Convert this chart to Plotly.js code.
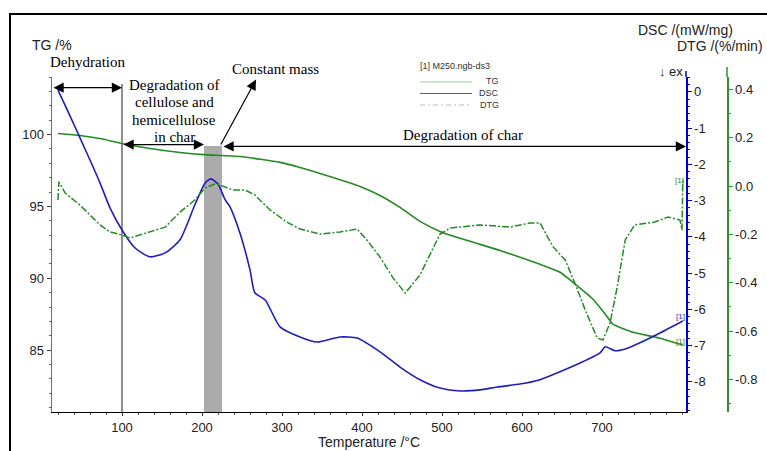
<!DOCTYPE html>
<html>
<head>
<meta charset="utf-8">
<script src="https://cdn.plot.ly/plotly-3.0.1.min.js"></script>
<style>html,body{margin:0;padding:0;background:#fff;}#chart{width:767px;height:451px;}</style>
</head>
<body>
<div id="chart"></div>
<script>
// ---- Data ----
const tgTemp = [20, 47.5, 72.5, 100, 135, 172.5, 202.5, 247.5, 297.5, 322.5, 363.75, 397.5, 422.5, 447.5, 472.5, 497.5, 522.5, 547.5, 572.5, 622.5, 647.5, 663.75, 688.75, 706, 713.75, 739, 772.5, 801];
const tgValues = [100.07, 99.93, 99.72, 99.38, 99.03, 98.75, 98.60, 98.47, 98.06, 97.71, 97.01, 96.39, 95.76, 94.93, 93.96, 93.26, 92.78, 92.36, 91.94, 90.97, 90.42, 89.72, 88.54, 87.36, 86.81, 86.25, 85.83, 85.35];

const dscTemp = [20, 35, 47.5, 60, 72.5, 85, 100, 116, 135, 154, 172.5, 191, 204, 211, 220, 229, 235, 247.5, 260, 266, 279, 297.5, 322.5, 344, 372.5, 394, 422.5, 447.5, 472.5, 497.5, 522.5, 547.5, 569, 597.5, 622.5, 647.5, 672.5, 697.5, 704, 716, 729, 747.5, 772.5, 801];
const dscValues = [0.05, -0.66, -1.27, -1.88, -2.51, -3.2, -3.81, -4.30, -4.55, -4.44, -4.08, -3.12, -2.51, -2.40, -2.54, -2.98, -3.17, -3.9, -4.91, -5.54, -5.74, -6.48, -6.76, -6.90, -6.76, -6.79, -7.17, -7.59, -7.94, -8.17, -8.25, -8.22, -8.14, -8.06, -7.94, -7.72, -7.48, -7.20, -7.03, -7.14, -7.09, -6.92, -6.65, -6.32];

const dtgTemp = [20, 21, 29, 47.5, 60, 72.5, 85, 100, 110, 135, 154, 172.5, 191, 204, 216, 222.5, 239, 254, 266, 285, 306, 322.5, 347.5, 372.5, 394, 406, 422.5, 439, 454, 472.5, 489, 497.5, 510, 547.5, 585, 610, 622.5, 639, 654, 666, 679, 694, 701, 710, 719, 729, 741, 766, 782.5, 797.5, 800, 801];
const dtgValues = [-0.058, 0.017, -0.029, -0.079, -0.120, -0.161, -0.190, -0.203, -0.215, -0.190, -0.170, -0.108, -0.058, -0.008, 0.008, 0.004, -0.017, -0.017, -0.037, -0.099, -0.149, -0.178, -0.199, -0.190, -0.178, -0.223, -0.294, -0.381, -0.443, -0.368, -0.257, -0.199, -0.174, -0.161, -0.170, -0.153, -0.153, -0.252, -0.306, -0.401, -0.513, -0.629, -0.637, -0.567, -0.418, -0.223, -0.161, -0.149, -0.128, -0.141, -0.182, 0.025];

const xTickVals = [100, 200, 300, 400, 500, 600, 700];
const tgTickVals = [85, 90, 95, 100];
const dscTickVals = [0, -1, -2, -3, -4, -5, -6, -7, -8];
const dscTickText = ['0', '-1', '-2', '-3', '-4', '-5', '-6', '-7', '-8'];
const dtgTickVals = [0.4, 0.2, 0.0, -0.2, -0.4, -0.6, -0.8];
const dtgTickText = ['0.4', '0.2', '0.0', '-0.2', '-0.4', '-0.6', '-0.8'];
const stageBounds = [20, 100, 202.5, 225, 805]; // dehydration | cellulose | constant mass | char
const cellLines = ['Degradation of', 'cellulose and', 'hemicellulose', 'in char'];

// ---- Layout helpers (pixel -> paper) ----
const ML = 52, MR = 40, MT = 77, MB = 39, W = 767, H = 451;
const PW = W - ML - MR, PH = H - MT - MB;
const px = x => (x - ML) / PW;
const py = y => (H - MB - y) / PH;

const green = 'rgb(34,139,34)';
const blue = 'rgb(30,30,190)';
const sans = 'Liberation Sans, Arial, sans-serif';
const serif = 'Liberation Serif, Times New Roman, serif';
const tickFont = {family: sans, size: 13, color: '#222'};

const traces = [
  {x: tgTemp, y: tgValues, type: 'scatter', mode: 'lines', name: 'TG', yaxis: 'y',
   line: {color: green, width: 1.6, shape: 'spline', smoothing: 0.5}},
  {x: dscTemp, y: dscValues, type: 'scatter', mode: 'lines', name: 'DSC', yaxis: 'y2',
   line: {color: blue, width: 1.6, shape: 'spline', smoothing: 0.6}},
  {x: dtgTemp, y: dtgValues, type: 'scatter', mode: 'lines', name: 'DTG', yaxis: 'y3',
   line: {color: green, width: 1.5, dash: '7px,2px,2px,2px'}}
];

function txt(text, x, y, opts) {
  return Object.assign({text: text, xref: 'paper', yref: 'paper', x: px(x), y: py(y),
    showarrow: false, xanchor: 'left', yanchor: 'middle',
    font: {family: sans, size: 14, color: '#222'}}, opts || {});
}
function arrow(x, y, ax, ay, side) {
  return {x: x, y: y, ax: ax, ay: ay, xref: 'x', yref: 'y', axref: 'x', ayref: 'y',
    text: '', showarrow: true, arrowhead: 2, arrowsize: 1.7, arrowwidth: 1.2,
    arrowcolor: '#000', arrowside: side || 'end', standoff: 0, startstandoff: 0};
}
const smallFont = c => ({family: sans, size: 9, color: c || '#333'});
const serifFont = {family: serif, size: 15, color: '#000'};

const annotations = [
  txt('TG /%', 30, 45),
  txt('DSC /(mW/mg)', 636, 30),
  txt('DTG /(%/min)', 765, 46, {xanchor: 'right'}),
  txt('↓ ex', 685, 71, {xanchor: 'right', font: {family: sans, size: 13, color: '#222'}}),
  txt('Temperature /°C', 369, 442, {xanchor: 'center'}),
  txt('[1] M250.ngb-ds3', 418, 66, {font: smallFont()}),
  txt('TG', 501, 81, {xanchor: 'right', font: smallFont()}),
  txt('DSC', 501, 93, {xanchor: 'right', font: smallFont()}),
  txt('DTG', 501, 105, {xanchor: 'right', font: smallFont()}),
  txt('[1]', 680, 316, {xanchor: 'center', font: {family: sans, size: 8, color: blue}}),
  txt('[1]', 680, 341, {xanchor: 'center', font: {family: sans, size: 8, color: green}}),
  txt('[1]', 679, 180, {xanchor: 'center', font: {family: sans, size: 8, color: green}}),
  txt('Dehydration', 48, 62, {font: serifFont}),
  txt(cellLines[0], 174, 85, {xanchor: 'center', font: serifFont}),
  txt(cellLines[1], 174, 102.5, {xanchor: 'center', font: serifFont}),
  txt(cellLines[2], 174, 120, {xanchor: 'center', font: serifFont}),
  txt(cellLines[3], 174, 137, {xanchor: 'center', font: serifFont}),
  txt('Constant mass', 275, 69, {xanchor: 'center', font: serifFont}),
  txt('Degradation of char', 463, 135, {xanchor: 'center', font: serifFont}),
  // arrows
  arrow(stageBounds[1], 103.26, stageBounds[0] - 7.5, 103.26, 'end+start'),
  arrow(stageBounds[2], 99.3, stageBounds[1], 99.3, 'end+start'),
  arrow(stageBounds[4], 99.17, stageBounds[3], 99.17, 'end+start'),
  arrow(267.5, 103.82, 222.5, 99.2, 'end')
];

const shapes = [
  // outer frame
  {type: 'rect', xref: 'paper', yref: 'paper', x0: px(10), x1: px(790), y0: py(470), y1: py(14),
   line: {color: '#000', width: 2}, fillcolor: 'rgba(0,0,0,0)', layer: 'below'},
  // constant-mass band
  {type: 'rect', xref: 'x', yref: 'paper', x0: stageBounds[2], x1: stageBounds[3], y0: 0, y1: py(146),
   line: {width: 0}, fillcolor: '#ababab', layer: 'below'},
  // vertical line at 100 °C
  {type: 'line', xref: 'x', yref: 'paper', x0: stageBounds[1], x1: stageBounds[1], y0: 0, y1: py(84),
   line: {color: '#444', width: 1.2}, layer: 'below'},
  // legend samples
  {type: 'line', xref: 'paper', yref: 'paper', x0: px(420), x1: px(472), y0: py(82), y1: py(82),
   line: {color: 'rgb(150,205,150)', width: 1}},
  {type: 'line', xref: 'paper', yref: 'paper', x0: px(420), x1: px(472), y0: py(93.5), y1: py(93.5),
   line: {color: 'rgb(90,90,170)', width: 1}},
  {type: 'line', xref: 'paper', yref: 'paper', x0: px(420), x1: px(472), y0: py(105), y1: py(105),
   line: {color: 'rgb(170,200,170)', width: 1, dash: '5px,3px,2px,3px'}},
  // axis line extensions at top of right axes
  {type: 'line', xref: 'paper', yref: 'paper', x0: px(686), x1: px(686), y0: py(77), y1: py(71),
   line: {color: 'rgb(0,0,200)', width: 1.5}},
  {type: 'line', xref: 'paper', yref: 'paper', x0: px(727), x1: px(727), y0: py(77), y1: py(67),
   line: {color: 'rgb(40,150,40)', width: 1.5}}
];

const layout = {
  width: W, height: H,
  margin: {l: ML, r: MR, t: MT, b: MB, pad: 0},
  paper_bgcolor: '#fff', plot_bgcolor: 'rgba(0,0,0,0)',
  showlegend: false,
  xaxis: {domain: [0, (686 - ML) / PW], range: [12.5, 805], tickvals: xTickVals,
    showgrid: false, zeroline: false, showline: true, linecolor: '#000', linewidth: 1.2,
    ticks: 'outside', ticklen: 3, tickcolor: '#333', tickfont: tickFont, automargin: false,
    minor: {dtick: 20, tick0: 0, ticks: 'outside', ticklen: 2, tickcolor: '#555'}},
  yaxis: {range: [80.7, 104.0], tickvals: tgTickVals, showgrid: false, zeroline: false,
    showline: true, linecolor: 'rgb(40,160,40)', linewidth: 1.5,
    ticks: 'outside', ticklen: 4, tickcolor: '#444', tickfont: tickFont, automargin: false,
    minor: {dtick: 1, ticks: 'outside', ticklen: 2, tickcolor: '#666'}},
  yaxis2: {overlaying: 'y', side: 'right', anchor: 'x', range: [-8.83, 0.41],
    tickvals: dscTickVals, ticktext: dscTickText,
    showgrid: false, zeroline: false, showline: true, linecolor: 'rgb(0,0,200)', linewidth: 1.5,
    ticks: 'outside', ticklen: 4, tickcolor: 'rgb(0,0,200)', tickfont: tickFont, automargin: false,
    minor: {dtick: 0.2, tick0: 0, ticks: 'outside', ticklen: 2, tickcolor: 'rgb(0,0,200)'}},
  yaxis3: {overlaying: 'y', side: 'right', anchor: 'free', position: 1, range: [-0.935, 0.451],
    tickvals: dtgTickVals, ticktext: dtgTickText, showgrid: false, zeroline: false, showline: true,
    linecolor: 'rgb(40,150,40)', linewidth: 1.5, ticks: 'outside', ticklen: 4,
    tickcolor: 'rgb(40,150,40)', tickfont: tickFont, automargin: false,
    minor: {dtick: 0.1, tick0: 0, ticks: 'outside', ticklen: 2, tickcolor: 'rgb(40,150,40)'}},
  annotations: annotations,
  shapes: shapes
};

Plotly.newPlot('chart', traces, layout, {displayModeBar: false, staticPlot: true});
</script>
</body>
</html>
